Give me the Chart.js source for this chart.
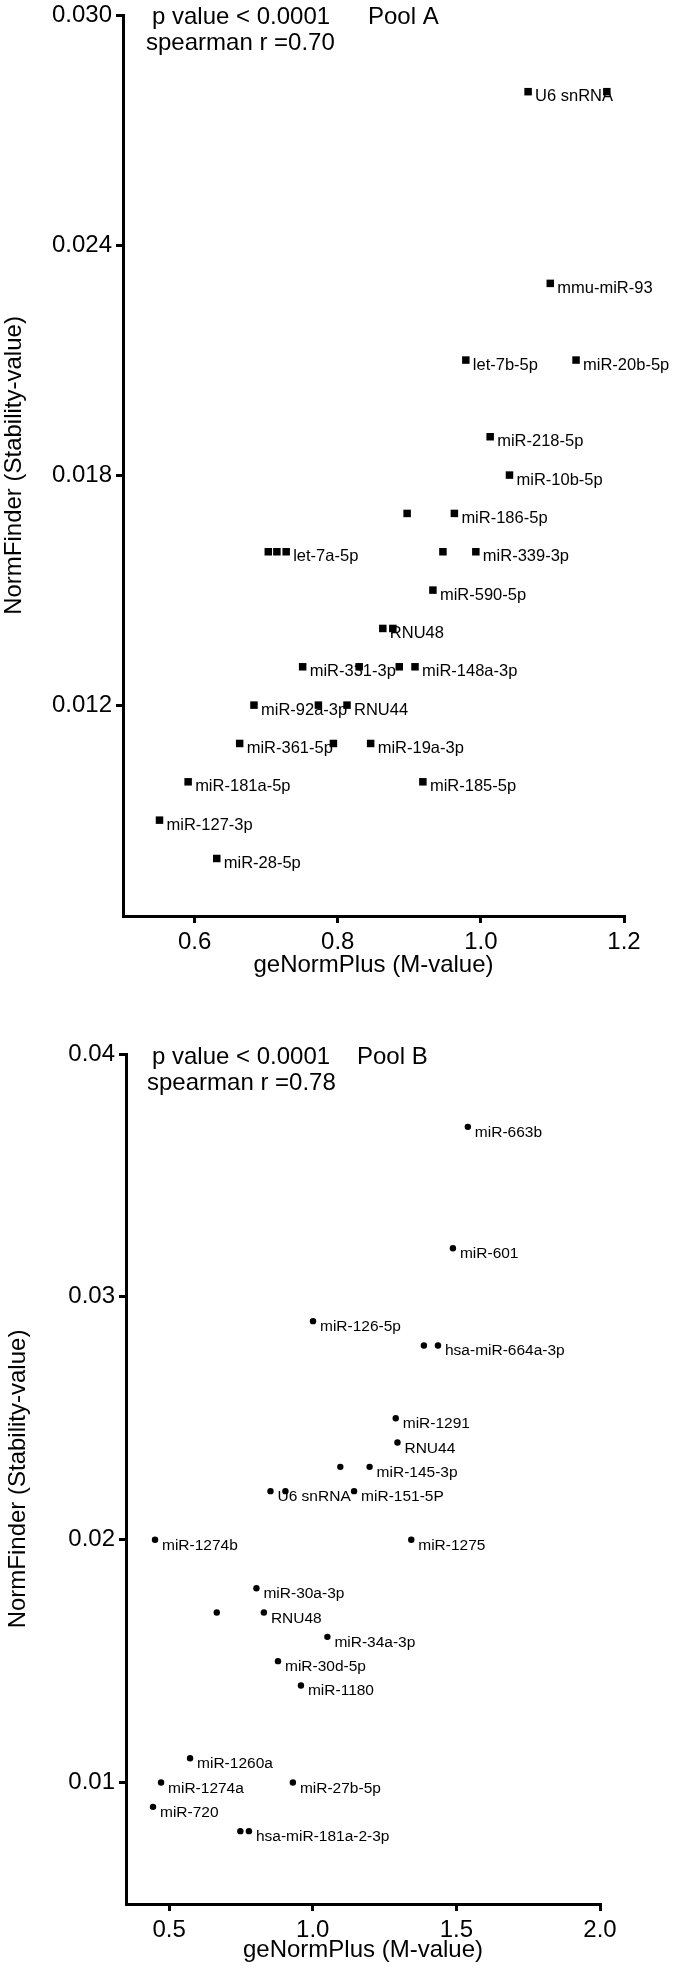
<!DOCTYPE html>
<html>
<head>
<meta charset="utf-8">
<title>geNormPlus vs NormFinder</title>
<script src="https://cdn.jsdelivr.net/npm/chart.js@4/dist/chart.umd.min.js"></script>
<style>
  html, body { margin: 0; padding: 0; background: #fff; }
  canvas { display: block; }
</style>
</head>
<body>
<canvas id="poolA" width="675" height="1000"></canvas>
<canvas id="poolB" width="675" height="968"></canvas>
<script>
// Pool A (square markers), '' = point without a label
const poolAGenes = ['U6 snRNA', '', 'mmu-miR-93', 'let-7b-5p', 'miR-20b-5p', 'miR-218-5p', 'miR-10b-5p',
  '', 'miR-186-5p', '', 'miR-339-3p', '', '', 'let-7a-5p', 'miR-590-5p', 'RNU48', '',
  'miR-331-3p', '', '', 'miR-148a-3p', 'miR-92a-3p', '', 'RNU44', 'miR-361-5p', '', 'miR-19a-3p',
  'miR-185-5p', 'miR-181a-5p', 'miR-127-3p', 'miR-28-5p'];
const poolAM = [1.066, 1.176, 1.097, 0.979, 1.133, 1.013, 1.040, 0.897, 0.963, 0.947, 0.993, 0.703, 0.715,
  0.728, 0.933, 0.863, 0.877, 0.751, 0.830, 0.886, 0.908, 0.683, 0.773, 0.813, 0.663, 0.794, 0.846,
  0.919, 0.591, 0.551, 0.631];
const poolAStability = [0.028, 0.028, 0.023, 0.021, 0.021, 0.019, 0.018, 0.017, 0.017, 0.016, 0.016, 0.016,
  0.016, 0.016, 0.015, 0.014, 0.014, 0.013, 0.013, 0.013, 0.013, 0.012, 0.012, 0.012, 0.011, 0.011,
  0.011, 0.010, 0.010, 0.009, 0.008];
const poolAXTicks = [0.6, 0.8, 1.0, 1.2];
const poolAYTicks = [0.012, 0.018, 0.024, 0.030];

// Pool B (round markers)
const poolBGenes = ['miR-663b', 'miR-601', 'miR-126-5p', '', 'hsa-miR-664a-3p', 'miR-1291', 'RNU44', '',
  'miR-145-3p', 'U6 snRNA', '', 'miR-151-5P', 'miR-1274b', 'miR-1275', 'miR-30a-3p', '', 'RNU48',
  'miR-34a-3p', 'miR-30d-5p', 'miR-1180', 'miR-1260a', 'miR-1274a', 'miR-27b-5p', 'miR-720', '',
  'hsa-miR-181a-2-3p'];
const poolBM = [1.540, 1.488, 1.001, 1.387, 1.436, 1.289, 1.295, 1.096, 1.198, 0.853, 0.905, 1.144, 0.451,
  1.343, 0.804, 0.666, 0.830, 1.051, 0.879, 0.959, 0.573, 0.472, 0.931, 0.444, 0.748, 0.778];
const poolBStability = [0.037, 0.032, 0.029, 0.028, 0.028, 0.025, 0.024, 0.023, 0.023, 0.022, 0.022, 0.022,
  0.020, 0.020, 0.018, 0.017, 0.017, 0.016, 0.015, 0.014, 0.011, 0.010, 0.010, 0.009, 0.008, 0.008];
const poolBXTicks = [0.5, 1.0, 1.5, 2.0];
const poolBYTicks = [0.01, 0.02, 0.03, 0.04];

const FONT = '"Liberation Sans", Arial, Helvetica, sans-serif';
Chart.defaults.font.family = FONT;
Chart.defaults.color = '#000';

// gene names next to the markers; drawn before the markers so these sit on top, as in the original
const pointLabels = {
  id: 'pointLabels',
  beforeDatasetsDraw(chart, args, opts) {
    const { ctx } = chart;
    const meta = chart.getDatasetMeta(0);
    ctx.save();
    ctx.fillStyle = '#000';
    ctx.font = opts.size + 'px ' + FONT;
    ctx.textBaseline = 'alphabetic';
    meta.data.forEach((pt, i) => {
      const name = opts.names[i];
      if (name) ctx.fillText(name, pt.x + opts.dx, pt.y + opts.dy);
    });
    ctx.restore();
  }
};

// p value / spearman / pool text in the top-left corner
const statsText = {
  id: 'statsText',
  afterDraw(chart, args, opts) {
    const { ctx, chartArea } = chart;
    ctx.save();
    ctx.fillStyle = '#000';
    ctx.font = '24px ' + FONT;
    ctx.textBaseline = 'alphabetic';
    opts.lines.forEach(l => ctx.fillText(l.text, chartArea.left + l.dx, chartArea.top + l.dy));
    ctx.restore();
  }
};

function makeChart(id, cfg) {
  const axisLine = { color: '#000', width: 3 };
  const tickMarks = { drawOnChartArea: false, drawTicks: true, tickLength: 7, color: '#000', lineWidth: 3 };
  return new Chart(document.getElementById(id), {
    type: 'scatter',
    data: {
      datasets: [{
        data: cfg.xs.map((x, i) => ({ x: x, y: cfg.ys[i] })),
        pointStyle: cfg.pointStyle,
        pointRadius: cfg.pointRadius,
        backgroundColor: '#000',
        borderColor: '#000',
        borderWidth: 0,
        clip: false
      }]
    },
    options: {
      responsive: false,
      animation: false,
      devicePixelRatio: 1,
      events: [],
      layout: { padding: cfg.padding },
      plugins: {
        legend: { display: false },
        tooltip: { enabled: false },
        pointLabels: { names: cfg.names, size: cfg.labelSize, dx: 7, dy: cfg.labelDy },
        statsText: { lines: cfg.stats }
      },
      scales: {
        x: {
          type: 'linear',
          min: cfg.xMin,
          max: cfg.xMax,
          border: axisLine,
          grid: tickMarks,
          afterBuildTicks: s => { s.ticks = cfg.xTicks.map(v => ({ value: v })); },
          afterFit: s => { s.height = cfg.xAxisHeight; s.paddingLeft = 0; s.paddingRight = 0; },
          ticks: {
            padding: 5,
            maxRotation: 0,
            font: { size: 24 },
            color: '#000',
            callback: v => v.toFixed(1)
          },
          title: {
            display: true,
            text: 'geNormPlus (M-value)',
            font: { size: 24 },
            color: '#000',
            padding: { top: 0, bottom: 0 }
          }
        },
        y: {
          type: 'linear',
          min: cfg.yMin,
          max: cfg.yMax,
          border: axisLine,
          grid: tickMarks,
          afterBuildTicks: s => { s.ticks = cfg.yTicks.map(v => ({ value: v })); },
          afterFit: s => { s.width = cfg.yAxisWidth; s.paddingTop = 0; s.paddingBottom = 0; },
          ticks: {
            padding: 4,
            font: { size: 24 },
            color: '#000',
            callback: v => v.toFixed(cfg.yDigits)
          },
          title: {
            display: true,
            text: 'NormFinder (Stability-value)',
            font: { size: 24 },
            color: '#000',
            padding: { top: cfg.yTitlePad, bottom: 0 }
          }
        }
      }
    },
    plugins: [pointLabels, statsText]
  });
}

makeChart('poolA', {
  names: poolAGenes, xs: poolAM, ys: poolAStability,
  xTicks: poolAXTicks, yTicks: poolAYTicks,
  xMin: 0.5, xMax: 1.2, yMin: 0.0065, yMax: 0.030, yDigits: 3,
  pointStyle: 'rect', pointRadius: 5.3,
  labelSize: 16.5, labelDy: 9.5,
  padding: { left: 0, top: 15, right: 51, bottom: 20.6 },
  xAxisHeight: 63.4, yAxisWidth: 123, yTitlePad: 0,
  stats: [
    { text: 'p value < 0.0001', dx: 29, dy: 9 },
    { text: 'spearman r =0.70', dx: 23, dy: 35 },
    { text: 'Pool A', dx: 245, dy: 9 }
  ]
});

makeChart('poolB', {
  names: poolBGenes, xs: poolBM, ys: poolBStability,
  xTicks: poolBXTicks, yTicks: poolBYTicks,
  xMin: 0.35, xMax: 2.0, yMin: 0.005, yMax: 0.04, yDigits: 2,
  pointStyle: 'circle', pointRadius: 3.2,
  labelSize: 15.5, labelDy: 10,
  padding: { left: 0, top: 54, right: 75, bottom: 3.6 },
  xAxisHeight: 60.4, yAxisWidth: 126, yTitlePad: 4,
  stats: [
    { text: 'p value < 0.0001', dx: 26, dy: 9.5 },
    { text: 'spearman r =0.78', dx: 21, dy: 36 },
    { text: 'Pool B', dx: 231, dy: 9.5 }
  ]
});
</script>
</body>
</html>
